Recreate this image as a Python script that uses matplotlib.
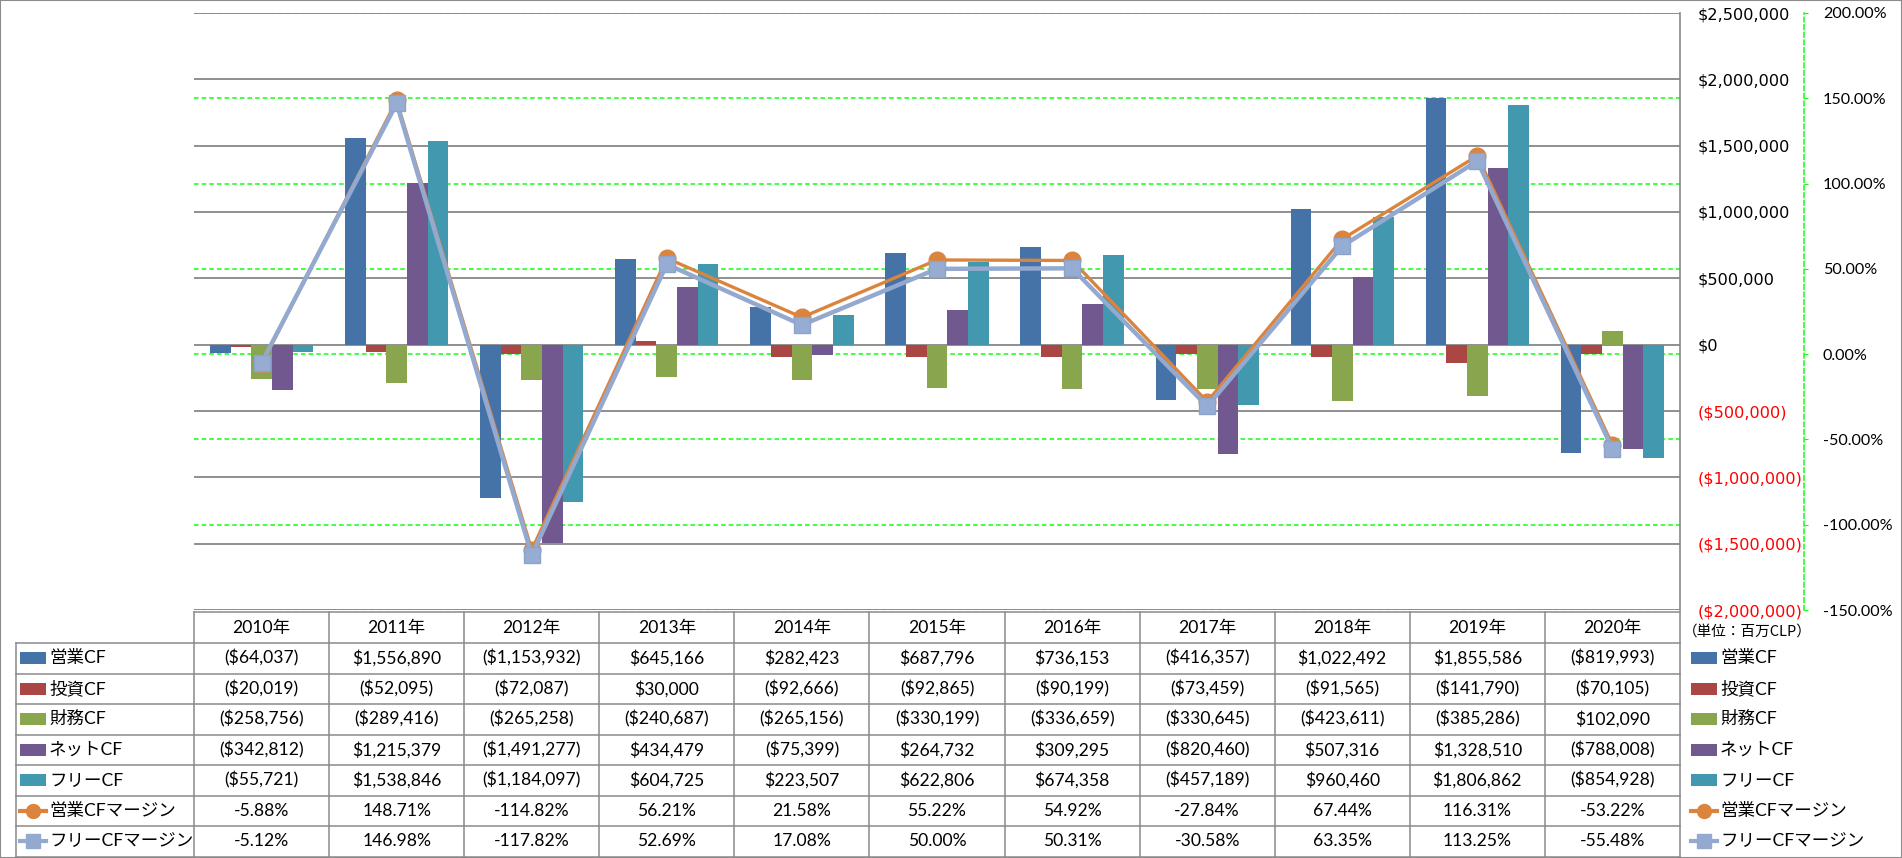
import numpy as np
import matplotlib.pyplot as plt
from matplotlib.lines import Line2D
from matplotlib.patches import Rectangle

plt.rcParams['font.family'] = ['Lato', 'Noto Sans CJK JP', 'DejaVu Sans']

# --- データ ---
years = ['2010年', '2011年', '2012年', '2013年', '2014年', '2015年',
         '2016年', '2017年', '2018年', '2019年', '2020年']
op_cf = [-64037, 1556890, -1153932, 645166, 282423, 687796, 736153, -416357, 1022492, 1855586, -819993]
inv_cf = [-20019, -52095, -72087, 30000, -92666, -92865, -90199, -73459, -91565, -141790, -70105]
fin_cf = [-258756, -289416, -265258, -240687, -265156, -330199, -336659, -330645, -423611, -385286, 102090]
net_cf = [-342812, 1215379, -1491277, 434479, -75399, 264732, 309295, -820460, 507316, 1328510, -788008]
free_cf = [-55721, 1538846, -1184097, 604725, 223507, 622806, 674358, -457189, 960460, 1806862, -854928]
op_margin = [-5.88, 148.71, -114.82, 56.21, 21.58, 55.22, 54.92, -27.84, 67.44, 116.31, -53.22]
free_margin = [-5.12, 146.98, -117.82, 52.69, 17.08, 50.00, 50.31, -30.58, 63.35, 113.25, -55.48]

bar_names = ['営業CF', '投資CF', '財務CF', 'ネットCF', 'フリーCF']
bar_data = [op_cf, inv_cf, fin_cf, net_cf, free_cf]
bar_colors = ['#4572A7', '#AA4643', '#89A54E', '#71588F', '#4198AF']
line_names = ['営業CFマージン', 'フリーCFマージン']
line_data = [op_margin, free_margin]
line_colors = ['#DB843D', '#93A9CF']
line_markers = ['o', 's']

left_ticks = np.arange(-2000000, 2500001, 500000)
right_ticks = np.arange(-150, 201, 50)

GRAY = '#878787'
GREEN = '#11FF11'
RED = '#FF0000'


def fmt_money(v):
    s = '${:,.0f}'.format(abs(v))
    return '(' + s + ')' if v < 0 else s


def fmt_pct(v):
    return '{:.2f}%'.format(v)


# --- 画図 ---
W, H = 1902, 858
fig = plt.figure(figsize=(W / 100, H / 100), dpi=100)


def fx(px):
    return px / W


def fy(py):
    return 1 - py / H


x_left, x_right = 194, 1680
y_top, y_bot = 13, 610
ax = fig.add_axes([fx(x_left), fy(y_bot), (x_right - x_left) / W, (y_bot - y_top) / H])
ax2 = ax.twinx()   # パーセント軸 (緑の点線)
ax3 = ax.twinx()   # 折れ線
ax2.set_zorder(0)
ax.set_zorder(1)
ax3.set_zorder(2)
for a in (ax, ax2, ax3):
    a.patch.set_visible(False)

n = len(years)
x = np.arange(n)
bw = 0.153
for k, (vals, c) in enumerate(zip(bar_data, bar_colors)):
    ax.bar(x + (k - 2) * bw, vals, width=bw, color=c, zorder=2)

ax.set_xlim(-0.5, n - 0.5)
ax.set_ylim(-2000000, 2500000)
ax.set_xticks([])
ax.yaxis.tick_right()
ax.set_yticks(left_ticks, labels=[fmt_money(t) for t in left_ticks])
for lab, t in zip(ax.get_yticklabels(), left_ticks):
    lab.set_color(RED if t < 0 else 'black')
    lab.set_fontfamily(['DejaVu Sans'])
ax.tick_params(axis='y', length=0, pad=12.5, labelsize=11.6)
ax.grid(axis='y', color=GRAY, lw=1.3)
ax.set_axisbelow(True)
for s in ('left', 'top', 'bottom'):
    ax.spines[s].set_visible(False)
ax.spines['right'].set_color(GRAY)
ax.spines['right'].set_linewidth(1.2)

ax2.set_ylim(-150, 200)
ax2.set_yticks(right_ticks, labels=[fmt_pct(t) for t in right_ticks])
for lab, t in zip(ax2.get_yticklabels(), right_ticks):
    lab.set_color(RED if t < 0 else 'black')
    lab.set_fontfamily(['DejaVu Sans'])
ax2.tick_params(axis='y', direction='out', length=3, color=GREEN, pad=10.5, labelsize=11.6)
ax2.grid(axis='y', color=GREEN, lw=1.1, linestyle=(0, (3, 2)))
for s in ('left', 'top', 'bottom'):
    ax2.spines[s].set_visible(False)
ax2.spines['right'].set_position(('axes', (1804 - x_left) / (x_right - x_left)))
ax2.spines['right'].set_color(GREEN)
ax2.spines['right'].set_linestyle((0, (3, 2)))
ax2.spines['right'].set_linewidth(1.1)

ax3.set_ylim(-150, 200)
ax3.axis('off')
ax3.plot(x, op_margin, color=line_colors[0], lw=2.4, marker='o', ms=12,
         mfc=line_colors[0], mec=line_colors[0], zorder=3)
ax3.plot(x, free_margin, color=line_colors[1], lw=3.2, marker='s', ms=12,
         mfc='#96ACD2', mec='#8CA4CC', zorder=4)

# --- 表 ---
TBL = '#8A8A8A'
tfs = 12.6


def hline(x0, x1, y):
    fig.add_artist(Line2D([fx(x0), fx(x1)], [fy(y), fy(y)], transform=fig.transFigure,
                          color=TBL, lw=1.1))


def vline(xp, y0, y1):
    fig.add_artist(Line2D([fx(xp), fx(xp)], [fy(y0), fy(y1)], transform=fig.transFigure,
                          color=TBL, lw=1.1))


col_w = (x_right - x_left) / n
head_top, head_bot = 612, 643
row_h = 30.5
rows_text = [[fmt_money(v) for v in vals] for vals in bar_data] + \
            [[fmt_pct(v) for v in vals] for vals in line_data]
n_rows = len(rows_text)
tbl_bot = head_bot + n_rows * row_h

hline(x_left, x_right, head_top)
for r in range(n_rows + 1):
    hline(16, x_right, head_bot + r * row_h)
vline(16, head_bot, tbl_bot)
for i in range(n + 1):
    vline(x_left + i * col_w, head_top, tbl_bot)

for i, yr in enumerate(years):
    fig.text(fx(x_left + (i + 0.5) * col_w), fy((head_top + head_bot) / 2), yr,
             ha='center', va='center', fontsize=tfs)
for r, cells in enumerate(rows_text):
    yc = head_bot + (r + 0.5) * row_h
    for i, s in enumerate(cells):
        fig.text(fx(x_left + (i + 0.5) * col_w), fy(yc), s, ha='center', va='center', fontsize=tfs)

fig.text(fx(1683), fy(632), '（単位：百万CLP）', ha='left', va='center', fontsize=10.5,
         family=['Noto Sans CJK JP', 'DejaVu Sans'])


# 凡例 (左と右)
def legend_key(x0, yc, r):
    if r < len(bar_names):
        fig.add_artist(Rectangle((fx(x0), fy(yc + 6)), 26 / W, 12 / H, transform=fig.transFigure,
                                 color=bar_colors[r], lw=0))
    else:
        j = r - len(bar_names)
        fig.add_artist(Line2D([fx(x0), fx(x0 + 26)], [fy(yc), fy(yc)], transform=fig.transFigure,
                              color=line_colors[j], lw=3, marker=None))
        fig.add_artist(Line2D([fx(x0 + 13)], [fy(yc)], transform=fig.transFigure,
                              color=line_colors[j], marker=line_markers[j], ms=10, lw=0))


all_names = bar_names + line_names
for r, name in enumerate(all_names):
    yc = head_bot + (r + 0.5) * row_h
    legend_key(20, yc, r)
    fig.text(fx(49), fy(yc), name, ha='left', va='center', fontsize=tfs)
    legend_key(1691, yc, r)
    fig.text(fx(1720), fy(yc), name, ha='left', va='center', fontsize=tfs)

# 外枠
fig.add_artist(Rectangle((0, 0), 1, 1, transform=fig.transFigure, fill=False,
                         edgecolor='#8C8C8C', lw=1.5))

fig.savefig('out.png', dpi=100)
